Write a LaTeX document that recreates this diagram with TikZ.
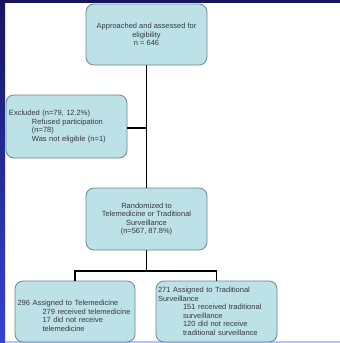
\documentclass[tikz,border=0pt]{standalone}
\usepackage{fontspec}
\setmainfont{Liberation Sans}
\usepackage{tikz}
\usetikzlibrary{calc,positioning}
\definecolor{boxfill}{RGB}{188,226,231}
\definecolor{boxline}{RGB}{105,135,145}
\definecolor{txt}{RGB}{55,55,60}
\definecolor{navy}{RGB}{22,22,95}
\definecolor{slideblue}{RGB}{55,65,215}
\definecolor{paleblue}{RGB}{185,195,245}

\begin{document}
\begin{tikzpicture}[x=1pt, y=1pt,
  box/.style={draw=boxline, fill=boxfill, rounded corners=8pt, line width=0.8pt, inner ysep=2pt, font=\fontsize{7.5}{8.5}\selectfont, text=txt},
  cbox/.style={box, minimum width=121pt, minimum height=61pt, align=center},
  lbox/.style={box, minimum height=61pt, align=left},
  link/.style={draw=black, line width=1.2pt}
]
% slide background
\fill[white] (0,0) rectangle (340,-343);
\shade[top color=navy, bottom color=slideblue] (0,0) rectangle (5,-343);
\fill[navy] (0,0) rectangle (340,-3);
\fill[paleblue] (5,-341) rectangle (340,-343);
\useasboundingbox (0,0) rectangle (340,-343);
% main column
\node[cbox] (appr) at (146.5,-34.5) {Approached and assessed for\\ eligibility\\ n = 646};
\node[cbox, minimum height=62pt] (rand) at (146.5,-219) {Randomized to\\ Telemedicine or Traditional\\ Surveillance\\ (n=567, 87.8\%)};
% excluded branch
\node[lbox, text width=115pt, inner xsep=3pt, minimum height=63pt] (excl) at (66.5,-126.5) {Excluded (n=79, 12.2\%)\\
  \hspace*{23pt}Refused participation\\ \hspace*{23pt}(n=78)\\ \hspace*{23pt}Was not eligible (n=1)};
% arms
\node[lbox, text width=115pt, inner xsep=2.5pt] (tele) at (75,-311.5) {\rule{0pt}{14pt}296 Assigned to Telemedicine\\
  \hspace*{25pt}279 received telemedicine\\ \hspace*{25pt}17 did not receive\\ \hspace*{25pt}telemedicine};
\node[lbox, text width=117pt, inner xsep=2pt] (trad) at (216.5,-311.5) {271 Assigned to Traditional\\ Surveillance\\
  \hspace*{25pt}151 received traditional\\ \hspace*{25pt}surveillance\\ \hspace*{25pt}120 did not receive\\ \hspace*{25pt}traditional surveillance};
% connectors
\coordinate (join) at (146.5,-128);
\coordinate (split) at (146.5,-271);
\draw[link] (appr) -- (rand);
\draw[link] (excl.east |- join) -- (join);
\draw[link] (rand) -- (split);
\draw[link] (tele.north) |- (split) -| (trad.north);
\end{tikzpicture}
\end{document}
